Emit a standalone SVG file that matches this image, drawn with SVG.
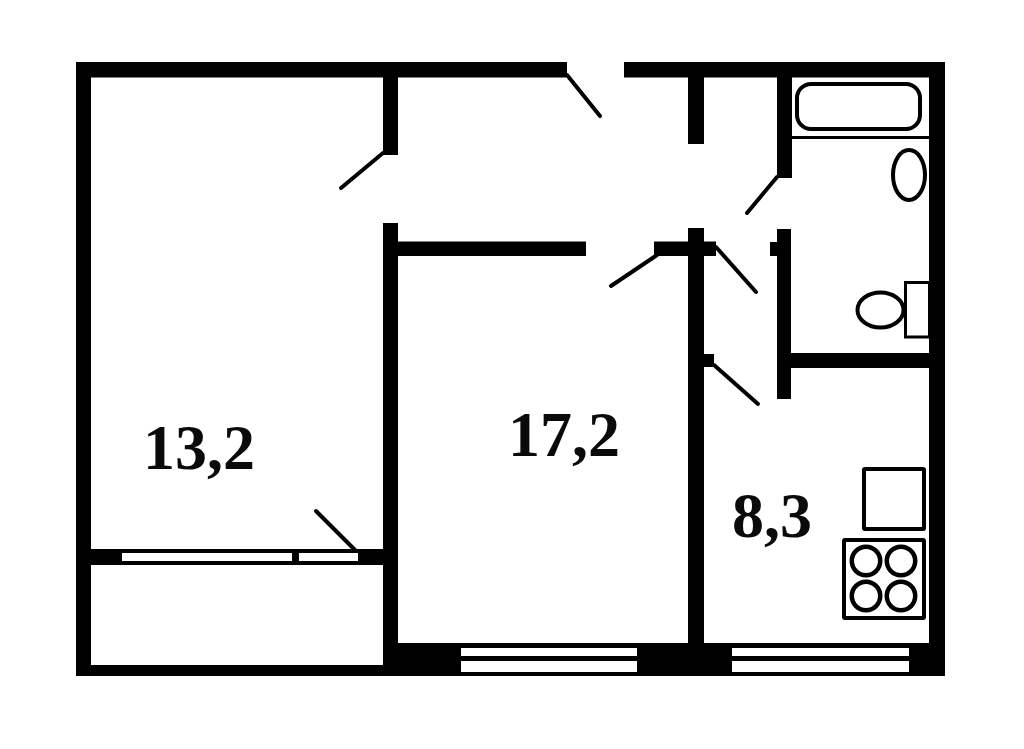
<svg xmlns="http://www.w3.org/2000/svg" width="1024" height="749" viewBox="0 0 1024 749">
<style>
.w{fill:#000}
.g{fill:#fff}
.d{stroke:#000;stroke-width:4;stroke-linecap:round;fill:none}
.f{stroke:#000;fill:#fff}
.t{font-family:"Liberation Serif","Times New Roman",serif;font-size:64px;font-weight:bold;fill:#0a0a0a}
</style>
<rect width="1024" height="749" fill="#fff"/>
<g id="walls" class="w">
<rect x="76" y="62" width="491" height="15.500"/>
<rect x="624" y="62" width="321" height="15.500"/>
<rect x="76" y="62" width="15" height="614"/>
<rect x="929" y="62" width="16" height="614"/>
<rect x="76" y="665" width="322" height="11"/>
<rect x="383" y="77" width="15" height="78"/>
<rect x="383" y="223" width="15" height="453"/>
<rect x="398" y="241.500" width="188" height="14.500"/>
<rect x="91" y="549" width="292" height="16"/>
<rect x="398" y="643" width="547" height="33"/>
<rect x="688" y="77" width="16" height="67"/>
<rect x="688" y="228" width="16" height="415"/>
<rect x="654" y="241.500" width="62" height="14.500"/>
<rect x="704" y="354" width="10" height="13"/>
<rect x="777" y="77" width="15" height="101"/>
<rect x="777" y="229" width="14" height="170"/>
<rect x="770" y="242" width="7" height="14"/>
<rect x="791" y="353" width="138" height="15"/>
<rect x="792" y="136" width="137" height="3"/>
</g>
<g id="windows" class="g">
<rect x="122" y="553" width="170" height="8"/>
<rect x="299" y="553" width="59" height="8"/>
<rect x="461" y="648" width="176" height="8"/>
<rect x="461" y="661" width="176" height="11"/>
<rect x="732" y="648" width="177" height="8"/>
<rect x="732" y="661" width="177" height="11"/>
</g>
<g id="doors" class="d">
<line x1="567" y1="75" x2="600" y2="116"/>
<line x1="383" y1="153" x2="341" y2="188"/>
<line x1="657" y1="255" x2="611" y2="286"/>
<line x1="716" y1="247" x2="756" y2="292"/>
<line x1="714" y1="365" x2="758" y2="404"/>
<line x1="777" y1="177" x2="747" y2="213"/>
<line x1="316" y1="511" x2="355" y2="550"/>
</g>
<g id="bathroom" class="f" stroke-width="4">
<rect x="797" y="84" width="123" height="45" rx="14"/>
<ellipse cx="909" cy="175" rx="16" ry="25"/>
<rect x="905.500" y="282.500" width="24" height="54.500" stroke-width="3"/>
<ellipse cx="880.500" cy="310" rx="23" ry="17.500"/>
</g>
<g id="kitchen" class="f" stroke-width="4">
<rect x="864" y="469" width="60" height="60" rx="1"/>
<rect x="844" y="540" width="80" height="78" rx="1"/>
<g stroke-width="4.500">
<circle cx="866" cy="561" r="14.200"/>
<circle cx="901" cy="561" r="14.200"/>
<circle cx="866" cy="596" r="14.200"/>
<circle cx="901" cy="596" r="14.200"/>
</g>
</g>
<g id="labels">
<text class="t" x="143" y="469">13,2</text>
<text class="t" x="508" y="456">17,2</text>
<text class="t" x="732" y="537">8,3</text>
</g>
</svg>
